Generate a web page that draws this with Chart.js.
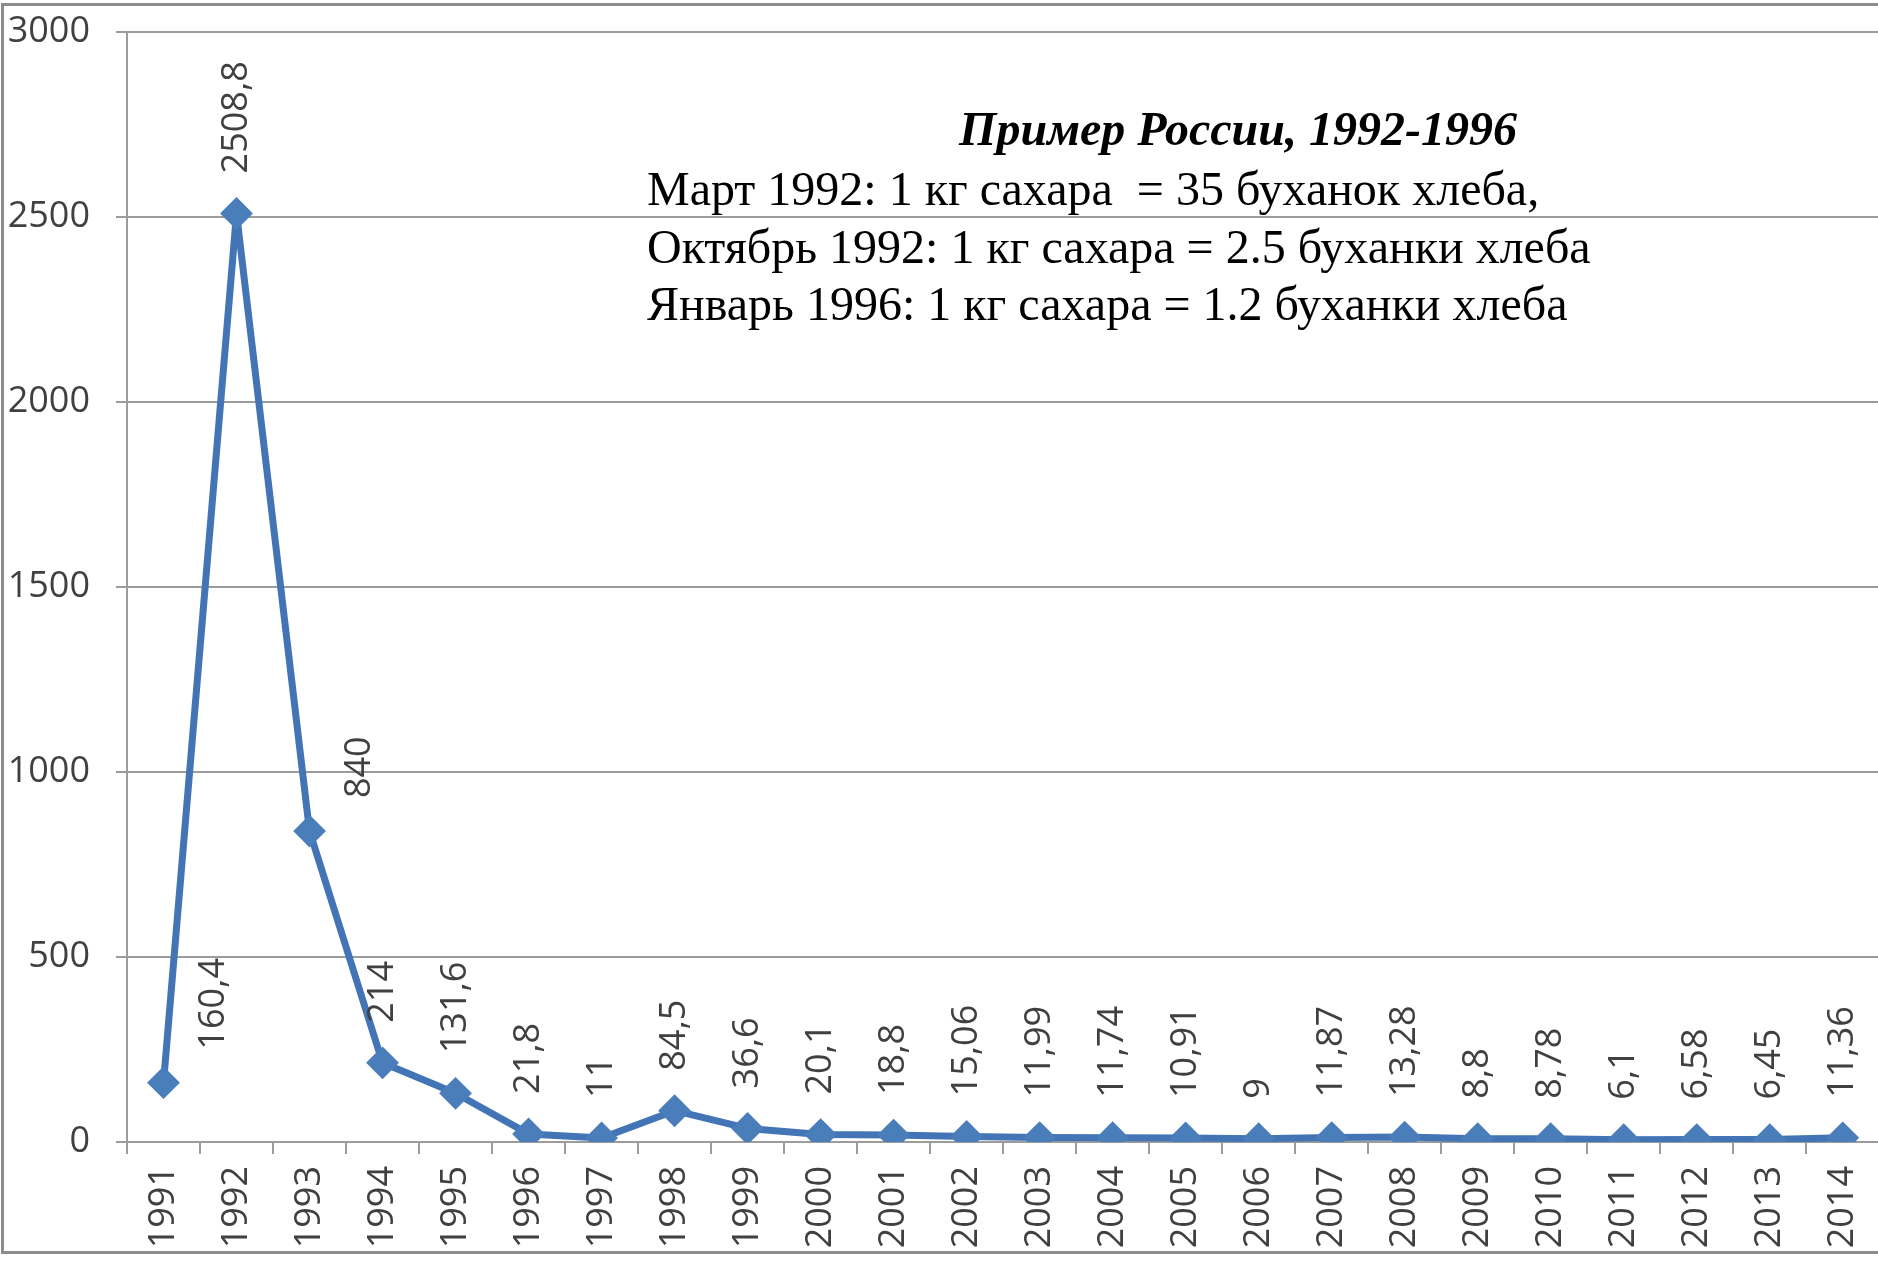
<!DOCTYPE html>
<html>
<head>
<meta charset="utf-8">
<script src="https://cdn.jsdelivr.net/npm/chart.js@4.4.1/dist/chart.umd.min.js"></script>
<style>
  html, body { margin: 0; padding: 0; background: #fff; overflow: hidden; }
  /* pulled up 16px: Chart.js keeps extra room above the plot for the markers */
  #wrap { position: relative; width: 1898px; height: 1277px; margin-top: -16px; }
</style>
</head>
<body>
<div id="wrap"><canvas id="myChart"></canvas></div>
<script>
// Years and values
const years = ['1991', '1992', '1993', '1994', '1995', '1996', '1997', '1998', '1999', '2000',
  '2001', '2002', '2003', '2004', '2005', '2006', '2007', '2008', '2009', '2010',
  '2011', '2012', '2013', '2014'];
const values = [160.4, 2508.8, 840, 214, 131.6, 21.8, 11, 84.5, 36.6, 20.1,
  18.8, 15.06, 11.99, 11.74, 10.91, 9, 11.87, 13.28, 8.8, 8.78,
  6.1, 6.58, 6.45, 11.36];
const yTicks = [0, 500, 1000, 1500, 2000, 2500, 3000];

const noteTitle = 'Пример России, 1992-1996';
const noteLines = [
  'Март 1992: 1 кг сахара  = 35 буханок хлеба,',
  'Октябрь 1992: 1 кг сахара = 2.5 буханки хлеба',
  'Январь 1996: 1 кг сахара = 1.2 буханки хлеба'
];

const blue = '#4a7ebb';
const lineBlue = '#4274b6';
const gray = '#9c9c9c';
const textColor = '#404040';
const shift = 16; // canvas is moved up by this much

// value labels, written upright (rotated) above each point
const valueLabels = {
  id: 'valueLabels',
  afterDatasetsDraw(chart) {
    const ctx = chart.ctx;
    const meta = chart.getDatasetMeta(0);
    ctx.save();
    ctx.font = '36px "Open Sans"';
    ctx.fillStyle = textColor;
    ctx.textAlign = 'left';
    ctx.textBaseline = 'middle';
    meta.data.forEach((pt, i) => {
      // two labels were moved aside in the original
      let dx = 0, gap = 40;
      if (i === 0 || i === 2) { dx = 50; gap = 33; }
      ctx.save();
      ctx.translate(pt.x + dx, pt.y - gap);
      ctx.rotate(-Math.PI / 2);
      ctx.fillText(String(values[i]).replace('.', ','), 0, 0);
      ctx.restore();
    });
    ctx.restore();
  }
};

// frame and the text box
const extras = {
  id: 'extras',
  beforeDraw(chart) {
    const ctx = chart.ctx;
    ctx.save();
    ctx.strokeStyle = '#8c8c8c';
    ctx.lineWidth = 3;
    ctx.strokeRect(2.5, 4.5 + shift, 1920, 1248);
    ctx.restore();
  },
  afterDraw(chart) {
    const ctx = chart.ctx;
    ctx.save();
    ctx.fillStyle = '#000';
    ctx.textBaseline = 'alphabetic';

    ctx.font = 'italic bold 48px "Liberation Serif"';
    ctx.textAlign = 'center';
    ctx.fillText(noteTitle, 1238, 145 + shift);

    ctx.font = '48px "Liberation Serif"';
    ctx.textAlign = 'left';
    noteLines.forEach((line, i) => {
      ctx.fillText(line, 647, 205 + shift + i * 57.5);
    });
    ctx.restore();
  }
};

const ctx = document.getElementById('myChart').getContext('2d');
const myChart = new Chart(ctx, {
  type: 'line',
  data: {
    labels: years,
    datasets: [{
      data: values,
      borderColor: lineBlue,
      backgroundColor: blue,
      borderWidth: 7,
      borderJoinStyle: 'round',
      borderCapStyle: 'round',
      pointStyle: 'rectRot',
      pointRadius: 15,
      pointBorderWidth: 2,
      pointBorderColor: blue,
      pointBackgroundColor: blue,
      tension: 0
    }]
  },
  options: {
    responsive: true,
    maintainAspectRatio: false,
    animation: false,
    layout: { autoPadding: false, padding: { top: 16, right: 2, left: 0, bottom: 0 } },
    plugins: {
      legend: { display: false },
      tooltip: { enabled: false }
    },
    scales: {
      x: {
        offset: true,
        afterFit(scale) { scale.height = 119; },
        grid: {
          offset: true,
          drawOnChartArea: false,
          drawTicks: true,
          tickLength: 12,
          color: gray,
          lineWidth: 2
        },
        border: { color: gray, width: 2 },
        ticks: {
          minRotation: 90,
          maxRotation: 90,
          padding: 12,
          color: textColor,
          font: { family: 'Open Sans', size: 36 }
        }
      },
      y: {
        min: 0,
        max: 3000,
        afterFit(scale) { scale.width = 127; },
        afterBuildTicks(scale) { scale.ticks = yTicks.map(v => ({ value: v })); },
        grid: {
          color: gray,
          lineWidth: 2,
          tickLength: 11
        },
        border: { color: gray, width: 2 },
        ticks: {
          padding: 26,
          color: textColor,
          font: { family: 'Open Sans', size: 36 },
          callback: (v) => String(v)
        }
      }
    }
  },
  plugins: [valueLabels, extras]
});
</script>
</body>
</html>
